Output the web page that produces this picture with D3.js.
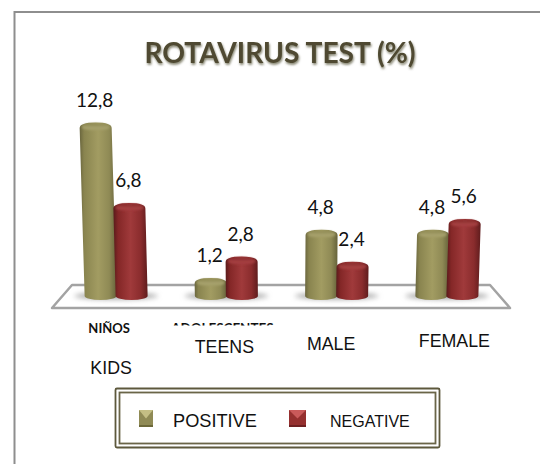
<!DOCTYPE html>
<html>
<head>
<meta charset="utf-8">
<script src="https://cdn.jsdelivr.net/npm/d3@7"></script>
<style>
  html, body { margin: 0; padding: 0; background: #fff; overflow: hidden; }
  svg { display: block; }
</style>
</head>
<body>
<div id="chart"></div>
<script>
const title = "ROTAVIRUS TEST (%)";
const categories = ["KIDS", "TEENS", "MALE", "FEMALE"];
const oldLabels = ["NIÑOS", "ADOLESCENTES"];
const seriesNames = ["POSITIVE", "NEGATIVE"];
const positive = [12.8, 1.2, 4.8, 4.8];
const negative = [6.8, 2.8, 2.4, 5.6];

const width = 540;
const height = 464;
const baseY = 300;
const vanishX = 281;
const lean = 0.000155;

const fmt = d => d.toFixed(1).replace(".", ",");

const svg = d3.select("#chart").append("svg")
    .attr("width", width)
    .attr("height", height)
    .attr("viewBox", `0 0 ${width} ${height}`);

const defs = svg.append("defs");

function gradient(id, stops, vertical) {
    const g = defs.append("linearGradient").attr("id", id)
        .attr("x1", 0).attr("y1", 0)
        .attr("x2", vertical ? 0 : 1).attr("y2", vertical ? 1 : 0);
    stops.forEach(s => g.append("stop").attr("offset", s[0]).attr("stop-color", s[1]));
}

gradient("olive", [[0, "#6a663e"], [0.12, "#89844f"], [0.5, "#a29c62"], [0.8, "#8f8a55"], [1, "#66623a"]]);
gradient("red", [[0, "#591a1b"], [0.14, "#842727"], [0.5, "#a03a3b"], [0.8, "#8a2c2d"], [1, "#5f1c1d"]]);
gradient("oliveCap", [[0, "#8b864f"], [0.65, "#a9a470"], [1, "#a09a62"]], true);
gradient("redCap", [[0, "#842727"], [0.65, "#a84344"], [1, "#9e3738"]], true);

defs.append("filter").attr("id", "blur").attr("x", "-30%").attr("y", "-80%")
    .attr("width", "160%").attr("height", "260%")
    .append("feGaussianBlur").attr("stdDeviation", 2.5);
defs.append("filter").attr("id", "soft").attr("x", "-20%").attr("y", "-50%")
    .attr("width", "140%").attr("height", "200%")
    .append("feGaussianBlur").attr("stdDeviation", 0.9);
defs.append("filter").attr("id", "titleShadow").attr("x", "-5%").attr("y", "-20%")
    .attr("width", "110%").attr("height", "150%")
    .append("feDropShadow")
    .attr("dx", 0.8).attr("dy", 1.8).attr("stdDeviation", 1)
    .attr("flood-color", "#77745f").attr("flood-opacity", 0.9);
defs.append("clipPath").attr("id", "cutLabel")
    .append("rect").attr("x", 150).attr("y", 322).attr("width", 150).attr("height", 3.5);

svg.append("rect").attr("width", width).attr("height", height).attr("fill", "#fff");

// outer frame runs off the right and bottom of the picture
svg.append("path")
    .attr("d", "M14.5,466V12H542")
    .attr("fill", "none")
    .attr("stroke", "#8e8e8e")
    .attr("stroke-width", 2);

// title
svg.append("text")
    .attr("x", 280)
    .attr("y", 62.5)
    .attr("text-anchor", "middle")
    .attr("font-family", "Lato, sans-serif")
    .attr("font-weight", 700)
    .attr("font-size", 28.2)
    .attr("fill", "#4f4a30")
    .attr("filter", "url(#titleShadow)")
    .text(title);

// floor
svg.append("path")
    .attr("d", "M52,308L72,285H490L510,308Z")
    .attr("fill", "#fff")
    .attr("stroke", "#a3a3a3")
    .attr("stroke-width", 2.5)
    .attr("stroke-linejoin", "round");

const x = d3.scaleBand().domain(categories).range([61, 502]);
const sub = d3.scaleBand().domain(seriesNames).range([0, 62]);
const y = d3.scaleLinear().domain([0, 14]).range([294, 106.4]);

const rows = categories.flatMap((c, i) => [
    { cat: c, series: seriesNames[0], value: positive[i], fill: "olive" },
    { cat: c, series: seriesNames[1], value: negative[i], fill: "red" }
]);

rows.forEach(d => {
    d.xb = x(d.cat) + (x.bandwidth() - sub.range()[1]) / 2 + sub(d.series) + sub.bandwidth() / 2;
    d.top = y(d.value);
    d.xt = d.xb + (d.xb - vanishX) * lean * (baseY - d.top);
});

// shadows on the floor
svg.append("g").selectAll("ellipse")
    .data(categories)
    .join("ellipse")
    .attr("cx", d => x(d) + x.bandwidth() / 2)
    .attr("cy", 296)
    .attr("rx", 42)
    .attr("ry", 3.5)
    .attr("fill", "#a8a8a8")
    .attr("filter", "url(#blur)");

const w = 16;
const ry = 4.5;

const bars = svg.append("g").selectAll("g")
    .data(rows)
    .join("g");

bars.append("path")
    .attr("d", d => `M${d.xt - w},${d.top + ry + 1}`
        + `Q${d.xt - w},${d.top} ${d.xt},${d.top}`
        + `Q${d.xt + w},${d.top} ${d.xt + w},${d.top + ry + 1}`
        + `L${d.xb + w},${baseY - 4}`
        + `A${w},4 0 0 1 ${d.xb - w},${baseY - 4}Z`)
    .attr("fill", d => `url(#${d.fill})`);

bars.append("ellipse")
    .attr("cx", d => d.xt)
    .attr("cy", d => d.top + ry)
    .attr("rx", w - 2)
    .attr("ry", ry - 1)
    .attr("fill", d => `url(#${d.fill}Cap)`)
    .attr("filter", "url(#soft)");

// data labels
svg.append("g").selectAll("text")
    .data(rows)
    .join("text")
    .attr("x", d => d.xt - 1)
    .attr("y", d => d.top - 15.5)
    .attr("text-anchor", "middle")
    .attr("font-family", "Lato, sans-serif")
    .attr("font-size", 19)
    .attr("fill", "#111")
    .text(d => fmt(d.value));

// leftover labels of the original chart
svg.append("text")
    .attr("x", x(categories[0]) + x.bandwidth() / 2 - 7)
    .attr("y", 333)
    .attr("text-anchor", "middle")
    .attr("font-family", "Lato, sans-serif")
    .attr("font-weight", 700)
    .attr("font-size", 13)
    .attr("fill", "#111")
    .text(oldLabels[0]);
svg.append("text")
    .attr("x", x(categories[1]) + x.bandwidth() / 2 - 4)
    .attr("y", 333)
    .attr("text-anchor", "middle")
    .attr("clip-path", "url(#cutLabel)")
    .attr("font-family", "Lato, sans-serif")
    .attr("font-weight", 700)
    .attr("font-size", 13.4)
    .attr("fill", "#111")
    .text(oldLabels[1]);

// typed over category labels, each sits at its own height
const labelShift = [[-5, 374], [-2, 353], [-5.5, 350], [7.5, 347]];
svg.append("g").selectAll("text")
    .data(categories)
    .join("text")
    .attr("x", (d, i) => x(d) + x.bandwidth() / 2 + labelShift[i][0])
    .attr("y", (d, i) => labelShift[i][1])
    .attr("text-anchor", "middle")
    .attr("font-family", "'Liberation Sans', sans-serif")
    .attr("font-size", 17.8)
    .attr("fill", "#111")
    .text(d => d);

// legend
const legend = svg.append("g");
legend.append("rect")
    .attr("x", 115.5).attr("y", 388.5).attr("width", 324).attr("height", 59)
    .attr("rx", 1.5)
    .attr("fill", "#fff").attr("stroke", "#5d583c").attr("stroke-width", 1.8);
legend.append("rect")
    .attr("x", 119.5).attr("y", 392.5).attr("width", 316).attr("height", 51)
    .attr("fill", "#fff").attr("stroke", "#6a6548").attr("stroke-width", 1.8);

const legendItems = [
    { name: seriesNames[0], x: 139, w: 14, base: "#8f8a55", lite: "#c4be84", dark: "#6c6839", tx: 173, size: 18.2 },
    { name: seriesNames[1], x: 289, w: 17, base: "#95302f", lite: "#c95a5a", dark: "#6e2021", tx: 330, size: 16 }
];
const my = 410;
const mh = 17;
const li = legend.selectAll("g.item").data(legendItems).join("g").attr("class", "item");
li.append("rect")
    .attr("x", d => d.x).attr("y", my).attr("width", d => d.w).attr("height", mh)
    .attr("fill", d => d.base);
li.append("path")
    .attr("d", d => `M${d.x},${my}H${d.x + d.w}L${d.x + d.w / 2},${my + mh * 0.5}Z`)
    .attr("fill", d => d.lite);
li.append("path")
    .attr("d", d => `M${d.x},${my + mh}H${d.x + d.w}V${my + mh - 2}H${d.x}Z`)
    .attr("fill", d => d.dark);
li.append("text")
    .attr("x", d => d.tx)
    .attr("y", 427)
    .attr("font-family", "'Liberation Sans', sans-serif")
    .attr("font-size", d => d.size)
    .attr("fill", "#111")
    .text(d => d.name);
</script>
</body>
</html>
